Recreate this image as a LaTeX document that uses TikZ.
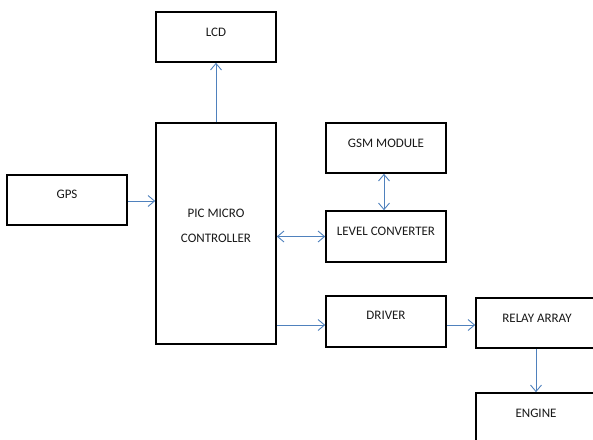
\documentclass[tikz,border=0pt]{standalone}
\usepackage{fontspec}
\setmainfont{Carlito}
\usetikzlibrary{arrows.meta}
\definecolor{linkblue}{RGB}{79,129,189}
\tikzset{
  blk/.style={draw=black, line width=1.6pt, minimum width=120pt, minimum height=50pt, inner sep=0pt},
  txt/.style={font=\fontsize{13}{25}\selectfont, text=black!90, align=center, inner sep=0pt},
  link/.style={draw=linkblue, line width=0.9pt, -{Straight Barb[length=6.5pt,width=11pt]}},
  dlink/.style={draw=linkblue, line width=0.9pt, {Straight Barb[length=6.5pt,width=11pt]}-{Straight Barb[length=6.5pt,width=11pt]}}
}
\begin{document}
\begin{tikzpicture}[x=1pt,y=-1pt]
\useasboundingbox (0,0) rectangle (593,439);
\clip (0,0) rectangle (593,439);
% boxes
\node[blk] (lcd) at (216,37) {};
\node[blk, minimum height=221pt] (pic) at (216,233.5) {};
\node[blk] (gps) at (67,200) {};
\node[blk] (gsm) at (386,148) {};
\node[blk, minimum height=51pt] (level) at (386,236.5) {};
\node[blk, minimum height=51pt] (driver) at (386,321.5) {};
\node[blk] (relay) at (536,323) {};
\node[blk] (engine) at (536,418) {};
% texts
\node[txt] (lcdt) at (216,32) {LCD};
\node[txt] (gpst) at (67,194) {GPS};
\node[txt] (pict) at (216,225.5) {PIC MICRO\\CONTROLLER};
\node[txt] (gsmt) at (386,143) {GSM MODULE};
\node[txt] (levelt) at (386,231) {LEVEL CONVERTER};
\node[txt] (drivert) at (386,315) {DRIVER};
\node[txt] (relayt) at (537,318) {RELAY ARRAY};
\node[txt] (enginet) at (536,413) {ENGINE};
% connectors
\draw[link] (pic.north) -- (lcd.south);
\draw[link] ([yshift=-1pt]gps.east) -- ([yshift=-1pt]gps.east -| pic.west);
\draw[dlink] (level.west -| pic.east) -- (level.west);
\draw[dlink] ([xshift=-2pt]gsm.south) -- ([xshift=-2pt]level.north);
\draw[link] ([yshift=-3.5pt]driver.west -| pic.east) -- ([yshift=-3.5pt]driver.west);
\draw[link] ([yshift=-3.5pt]driver.east) -- ([yshift=-3.5pt]driver.east -| relay.west);
\draw[link] (relay.south) -- (engine.north);
\end{tikzpicture}
\end{document}
